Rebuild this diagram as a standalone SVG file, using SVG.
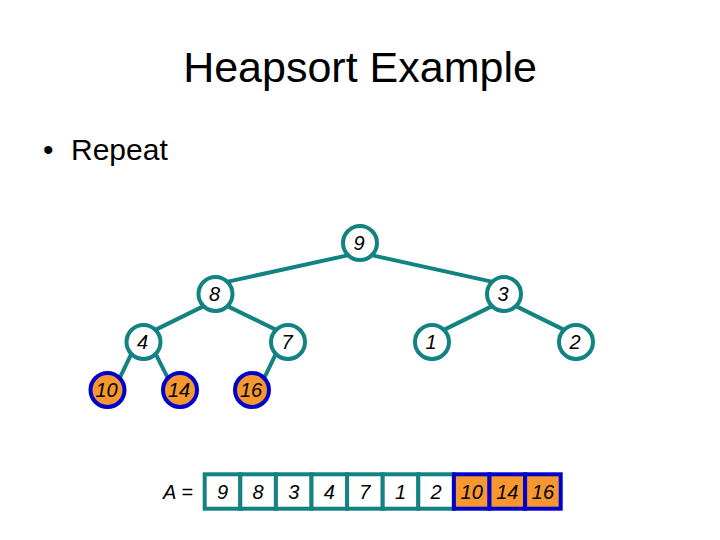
<svg xmlns="http://www.w3.org/2000/svg" width="720" height="540" viewBox="0 0 720 540">
<style>
.edge{stroke:#138282;stroke-width:4;fill:none}
.n circle{fill:#ffffff;stroke:#138282;stroke-width:4}
.n.hot circle{fill:#F7972F;stroke:#0000CC}
.lbl{font-family:"Liberation Sans",Arial,sans-serif;font-style:italic;font-size:20px;text-anchor:middle;fill:#000}
.cell{fill:#ffffff;stroke:#138282;stroke-width:4}
.cell.hot{fill:#F7972F;stroke:#0000CC}
.t{font-family:"Liberation Sans",Arial,sans-serif;fill:#000}
</style>
<rect width="720" height="540" fill="#ffffff"/>
<text class="t" x="360" y="82" font-size="43" text-anchor="middle">Heapsort Example</text>
<text class="t" x="43" y="160" font-size="30">•</text>
<text class="t" x="71" y="160" font-size="30">Repeat</text>
<g id="connectors">
<line class="edge" x1="347.6" y1="255.4" x2="227.9" y2="281.6"/>
<line class="edge" x1="372.4" y1="255.4" x2="491.6" y2="281.6"/>
<line class="edge" x1="203.1" y1="306.4" x2="155.9" y2="329.6"/>
<line class="edge" x1="227.9" y1="306.4" x2="275.6" y2="329.6"/>
<line class="edge" x1="491.6" y1="306.4" x2="444.4" y2="329.6"/>
<line class="edge" x1="516.4" y1="306.4" x2="563.6" y2="329.6"/>
<line class="edge" x1="131.1" y1="354.4" x2="119.9" y2="377.6"/>
<line class="edge" x1="155.9" y1="354.4" x2="167.6" y2="377.6"/>
<line class="edge" x1="275.6" y1="354.4" x2="264.4" y2="377.6"/>
</g>
<g id="node-9" class="n"><circle cx="360" cy="243" r="17"/><text class="lbl" x="359" y="250">9</text></g>
<g id="node-8" class="n"><circle cx="215.5" cy="294" r="17"/><text class="lbl" x="214.5" y="301">8</text></g>
<g id="node-3" class="n"><circle cx="504" cy="294" r="17"/><text class="lbl" x="503" y="301">3</text></g>
<g id="node-4" class="n"><circle cx="143.5" cy="342" r="17"/><text class="lbl" x="142.5" y="349">4</text></g>
<g id="node-7" class="n"><circle cx="288" cy="342" r="17"/><text class="lbl" x="287" y="349">7</text></g>
<g id="node-1" class="n"><circle cx="432" cy="342" r="17"/><text class="lbl" x="431" y="349">1</text></g>
<g id="node-2" class="n"><circle cx="576" cy="342" r="17"/><text class="lbl" x="575" y="349">2</text></g>
<g id="node-10" class="n hot"><circle cx="107.5" cy="390" r="17"/><text class="lbl" x="106.5" y="397">10</text></g>
<g id="node-14" class="n hot"><circle cx="180" cy="390" r="17"/><text class="lbl" x="179" y="397">14</text></g>
<g id="node-16" class="n hot"><circle cx="252" cy="390" r="17"/><text class="lbl" x="251" y="397">16</text></g>
<g id="array">
<text class="t" x="163" y="499" font-style="italic" font-size="20">A =</text>
<rect class="cell" x="204.7" y="474.3" width="35.6" height="34.4"/>
<rect class="cell" x="240.3" y="474.3" width="35.6" height="34.4"/>
<rect class="cell" x="275.9" y="474.3" width="35.6" height="34.4"/>
<rect class="cell" x="311.5" y="474.3" width="35.6" height="34.4"/>
<rect class="cell" x="347.1" y="474.3" width="35.6" height="34.4"/>
<rect class="cell" x="382.7" y="474.3" width="35.6" height="34.4"/>
<rect class="cell" x="418.3" y="474.3" width="35.6" height="34.4"/>
<rect class="cell hot" x="453.9" y="474.3" width="35.6" height="34.4"/>
<rect class="cell hot" x="489.5" y="474.3" width="35.6" height="34.4"/>
<rect class="cell hot" x="525.1" y="474.3" width="35.6" height="34.4"/>
<text class="lbl" x="222.5" y="499">9</text>
<text class="lbl" x="258.1" y="499">8</text>
<text class="lbl" x="293.7" y="499">3</text>
<text class="lbl" x="329.3" y="499">4</text>
<text class="lbl" x="364.9" y="499">7</text>
<text class="lbl" x="400.5" y="499">1</text>
<text class="lbl" x="436.1" y="499">2</text>
<text class="lbl" x="471.7" y="499">10</text>
<text class="lbl" x="507.3" y="499">14</text>
<text class="lbl" x="542.9" y="499">16</text>
</g>
</svg>
